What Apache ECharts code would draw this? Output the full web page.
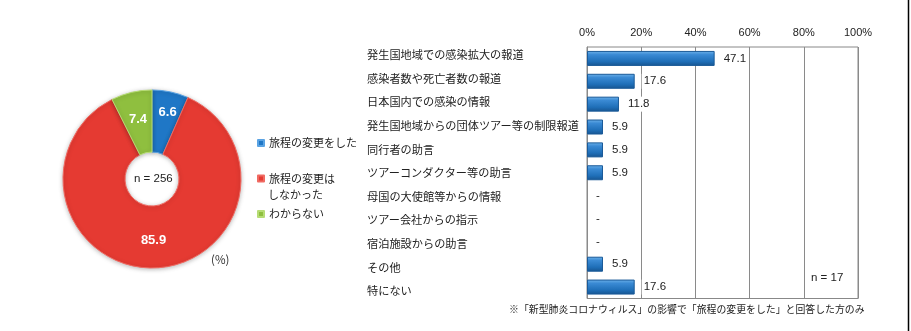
<!DOCTYPE html>
<html><head><meta charset="utf-8">
<script src="https://cdn.jsdelivr.net/npm/echarts@6/dist/echarts.min.js"></script>
<style>html,body{margin:0;padding:0;background:#fff}#c{width:911px;height:331px}</style>
</head><body><div id="c"></div>
<script>
const pieNames = ['旅程の変更をした', '旅程の変更はしなかった', 'わからない'];
const pieValues = [6.6, 85.9, 7.4];
const categories = ['発生国地域での感染拡大の報道', '感染者数や死亡者数の報道', '日本国内での感染の情報', '発生国地域からの団体ツアー等の制限報道', '同行者の助言', 'ツアーコンダクター等の助言', '母国の大使館等からの情報', 'ツアー会社からの指示', '宿泊施設からの助言', 'その他', '特にない'];
const barValues = [47.1, 17.6, 11.8, 5.9, 5.9, 5.9, 0, 0, 0, 5.9, 17.6];
const xTicks = [0, 20, 40, 60, 80, 100];

const jp = '"Noto Sans CJK JP", sans-serif';
const lat = '"Liberation Sans", "DejaVu Sans", sans-serif';
const pieColors = ['#1f77c6', '#e53a32', '#8fbf3f'];
const pieBorders = ['#5aa3e3', '#f06a62', '#b6dc74'];

const chart = echarts.init(document.getElementById('c'), null, {renderer: 'canvas'});
chart.setOption({
  animation: false,
  backgroundColor: '#fff',
  legend: {
    orient: 'vertical', left: 257, top: 136, padding: 0,
    itemWidth: 6, itemHeight: 6, icon: 'rect', itemGap: 21.5,
    data: pieNames,
    formatter: n => n === pieNames[1] ? '旅程の変更は' : n,
    textStyle: {fontFamily: jp, fontSize: 11, color: '#222', lineHeight: 14}
  },
  grid: [
    {left: 587, top: 47, width: 271, height: 251.5, show: true, borderColor: '#888', borderWidth: 1, containLabel: false},
    {left: 587, top: 43.2, width: 271, height: 259.6, show: false, containLabel: false}
  ],
  xAxis: [
    {
      type: 'value', gridIndex: 0, position: 'top', min: xTicks[0], max: xTicks[xTicks.length - 1], interval: 20,
      axisLine: {show: false}, axisTick: {show: false},
      axisLabel: {formatter: '{value}%', fontFamily: lat, fontSize: 11, color: '#222', margin: 9},
      splitLine: {lineStyle: {color: '#8a8a8a', width: 1}}
    },
    {type: 'value', gridIndex: 1, min: 0, max: 100, show: false}
  ],
  yAxis: [
    {
      type: 'category', gridIndex: 0, data: categories, inverse: true,
      axisLine: {show: true, lineStyle: {color: '#8a8a8a'}}, axisTick: {show: false},
      axisLabel: {show: false}
    },
    {
      type: 'category', gridIndex: 1, data: categories, inverse: true,
      axisLine: {show: false}, axisTick: {show: false}, splitLine: {show: false},
      axisLabel: {align: 'left', margin: 220, fontFamily: jp, fontSize: 11.2, color: '#222'}
    }
  ],
  series: [
    {
      type: 'pie', center: [152, 179], radius: [27, 89], startAngle: 90, clockwise: true,
      avoidLabelOverlap: false,
      data: pieNames.map((n, i) => ({
        name: n, value: pieValues[i],
        itemStyle: {color: pieColors[i], borderColor: pieBorders[i], borderWidth: 1},
        label: i === 0 ? {offset: [3, -7]} : {}
      })),
      label: {show: true, position: 'inside', formatter: p => p.value.toFixed(1), color: '#fff', fontWeight: 'bold', fontFamily: lat, fontSize: 13},
      labelLine: {show: false},
      itemStyle: {shadowBlur: 4, shadowColor: 'rgba(0,0,0,0.25)', shadowOffsetY: 1}
    },
    {
      type: 'bar', xAxisIndex: 0, yAxisIndex: 0, barWidth: 15,
      data: barValues.map(v => v === 0 ? {value: v, itemStyle: {borderWidth: 0}} : v),
      itemStyle: {
        color: new echarts.graphic.LinearGradient(0, 0, 0, 1, [
          {offset: 0, color: '#6fb3ea'}, {offset: 0.25, color: '#3a8ad4'},
          {offset: 0.7, color: '#1f6fb8'}, {offset: 1, color: '#17548f'}
        ]),
        borderColor: '#1a5a98', borderWidth: 1
      },
      label: {
        show: true, position: 'right', distance: 7,
        formatter: p => p.value === 0 ? '-' : p.value.toFixed(1),
        fontFamily: lat, fontSize: 11.5, color: '#222', backgroundColor: '#fff', padding: [2, 2, 1, 2]
      }
    }
  ],
  graphic: [
    {type: 'text', left: 268, top: 189, style: {text: 'しなかった', font: '11px ' + jp, fill: '#222'}},
    {type: 'text', left: 134, top: 173, style: {text: 'n = 256', font: '11.5px ' + lat, fill: '#222'}},
    {type: 'text', left: 211, top: 254, style: {text: '(%)', font: '11.5px ' + jp, fill: '#333'}},
    {type: 'text', left: 811, top: 272, style: {text: 'n = 17', font: '11.5px ' + lat, fill: '#222'}},
    {type: 'text', left: 509, top: 304, style: {text: '※「新型肺炎コロナウィルス」の影響で「旅程の変更をした」と回答した方のみ', font: '9.9px ' + jp, fill: '#222'}},
    {type: 'line', shape: {x1: 908.5, y1: 0, x2: 908.5, y2: 331}, style: {stroke: '#000', lineWidth: 1.5}}
  ]
});
</script></body></html>
